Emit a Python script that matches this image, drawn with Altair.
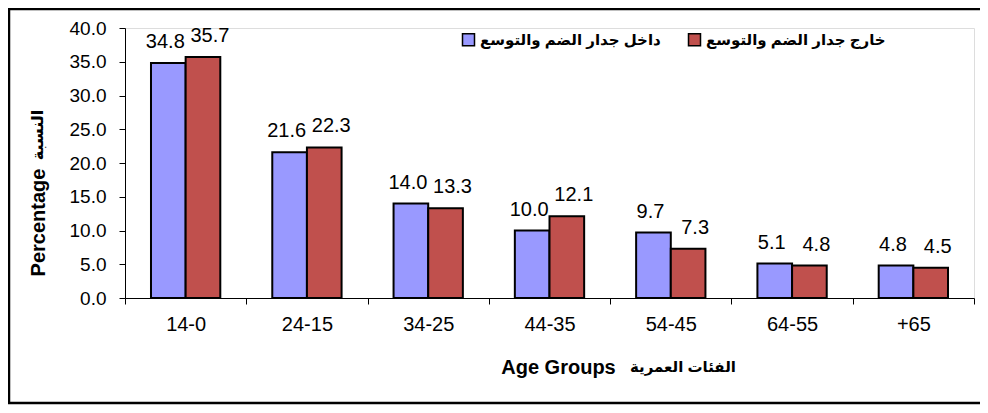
import altair as alt
import pandas as pd

cats = ["14-0", "24-15", "34-25", "44-35", "54-45", "64-55", "+65"]
series = ["داخل جدار الضم والتوسع", "خارج جدار الضم والتوسع"]
inside = [34.8, 21.6, 14.0, 10.0, 9.7, 5.1, 4.8]
outside = [35.7, 22.3, 13.3, 12.1, 7.3, 4.8, 4.5]
colors = ["#9999FF", "#C0504D"]
y_ticks = [0, 5, 10, 15, 20, 25, 30, 35, 40]
x_title_en, x_title_ar = "Age Groups", "الفئات العمرية"
y_title_en, y_title_ar = "Percentage", "النسبة"

rows = []
for c, a, b in zip(cats, inside, outside):
    rows.append({"cat": c, "series": series[0], "value": a})
    rows.append({"cat": c, "series": series[1], "value": b})
df = pd.DataFrame(rows)

FONT = "Liberation Sans, Arial, DejaVu Sans, sans-serif"
W, H = 849, 270

xscale = alt.Scale(paddingInner=0, paddingOuter=0)
yscale = alt.Scale(domain=[0, 40], nice=False)
xaxis = alt.Axis(title=x_title_en, labelAngle=0,
                 tickBand="extent", tickSize=6, labelPadding=10,
                 labelFontSize=20, labelFont=FONT, labelColor="black",
                 domainColor="black", tickColor="black",
                 titleFont=FONT, titleFontSize=20, titleFontWeight="bold",
                 titleColor="black", titleX=433, titleY=69,
                 titleAlign="center", titleBaseline="middle")
yaxis = alt.Axis(title=y_title_en, values=y_ticks, format=".1f",
                 grid=False, tickSize=6, labelPadding=13, labelOverlap=False,
                 labelFontSize=19, labelFont=FONT, labelColor="black",
                 domainColor="black", tickColor="black",
                 titleFont=FONT, titleFontSize=20, titleFontWeight="bold",
                 titleColor="black", titleX=-87, titleY=194,
                 titleAngle=270, titleAlign="center",
                 titleBaseline="middle")
xenc = alt.X("cat:N", sort=cats, scale=xscale, axis=xaxis)
yenc = alt.Y("value:Q", scale=yscale, axis=yaxis)
xoff = alt.XOffset("series:N", sort=series,
                   scale=alt.Scale(paddingInner=0, paddingOuter=0.75))

base = alt.Chart(df)

bars = base.mark_bar(stroke="black", strokeWidth=2).encode(
    x=xenc,
    xOffset=xoff,
    y=yenc,
    color=alt.Color("series:N", sort=series,
                    scale=alt.Scale(domain=series, range=colors),
                    legend=alt.Legend(title=None, orient="none", direction="horizontal",
                                      legendX=336, legendY=4,
                                      symbolType="square", symbolSize=144,
                                      symbolStrokeColor="black", symbolStrokeWidth=1.5,
                                      symbolOpacity=1,
                                      labelFont=FONT, labelFontSize=15,
                                      labelFontWeight="bold", labelColor="black",
                                      labelLimit=400, labelOffset=4,
                                      columnPadding=24)),
)

def labels(idx, dx):
    return base.transform_filter(alt.datum.series == series[idx]).mark_text(
        baseline="alphabetic", dy=-15, dx=dx, fontSize=20, font=FONT, color="black"
    ).encode(x=xenc, xOffset=xoff, y=yenc,
             text=alt.Text("value:Q", format=".1f"))

lab_in = labels(0, -3)
lab_out = labels(1, 7)

one = alt.Data(values=[{"f": 1}])
x_ar = alt.Chart(one).mark_text(
    align="left", baseline="middle", fontSize=15, fontWeight="bold", font=FONT, color="black"
).encode(x=alt.value(505), y=alt.value(H + 69), text=alt.value(x_title_ar))
y_ar = alt.Chart(one).mark_text(
    align="center", baseline="middle", angle=270, fontSize=16, fontWeight="bold",
    font=FONT, color="black"
).encode(x=alt.value(-87), y=alt.value(107), text=alt.value(y_title_ar))

frame = alt.Chart(one).mark_rect(
    fill="transparent", stroke="black", strokeWidth=2.5
).encode(x=alt.value(-116), x2=alt.value(W + 20), y=alt.value(-19), y2=alt.value(H + 105))

chart = alt.layer(frame, bars, lab_in, lab_out, x_ar, y_ar).properties(
    width=W, height=H,
    autosize=alt.AutoSizeParams(type="none"),
    padding={"left": 117, "top": 20, "right": 6, "bottom": 107},
).configure_view(strokeWidth=0).configure(background="white")

chart.save("out.html", embed_options={"renderer": "svg", "actions": False})
